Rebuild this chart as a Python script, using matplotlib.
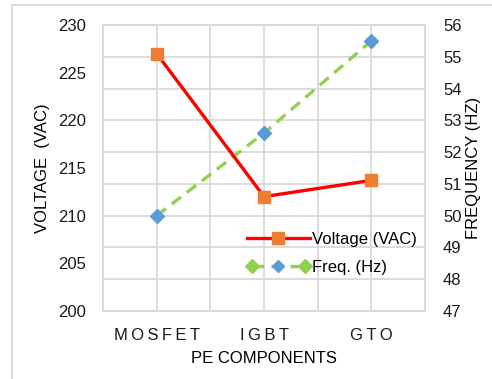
import matplotlib
matplotlib.use("Agg")
import matplotlib.pyplot as plt
from matplotlib.lines import Line2D
from matplotlib.legend_handler import HandlerLine2D, HandlerTuple

plt.rcParams['font.family'] = ['Liberation Sans', 'DejaVu Sans']

# data
components = ['MOSFET', 'IGBT', 'GTO']
tick_labels = ['\u2009'.join(c) for c in components]
voltage = [227.0, 212.0, 213.7]
freq = [50.0, 52.6, 55.5]

grid_c = '#D9D9D9'
fs = 12

fig = plt.figure(figsize=(4.92, 3.79), dpi=100)
ax1 = fig.add_axes([103 / 492, 68 / 379, 322 / 492, 286 / 379])
ax2 = ax1.twinx()

x = list(range(len(components)))

# frequency on the twin axis (drawn underneath)
ax2.plot(x, freq, color='#92D050', lw=2.4, ls=(0, (3.5, 2.2)),
         marker='D', ms=7, mfc='#5B9BD5', mec='#5B9BD5', zorder=3)
ax2.set_ylim(47, 56)
ax2.set_yticks(range(47, 57))
ax2.yaxis.grid(True, color=grid_c, lw=1.3)
ax2.set_axisbelow(True)
# vertical grid every half category
for gx in [i * 0.5 - 0.5 for i in range(7)]:
    ax2.axvline(gx, color=grid_c, lw=1.3, zorder=0)

# voltage on the main axis, put on top
ax1.set_zorder(ax2.get_zorder() + 1)
ax1.patch.set_visible(False)
ax1.plot(x, voltage, color='#FF0000', lw=2.4, marker='s', ms=9,
         mfc='#ED7D31', mec='#ED7D31', zorder=3)
ax1.set_ylim(200, 230)
ax1.set_yticks(range(200, 231, 5))
ax1.set_xlim(-0.5, 2.5)
ax1.set_xticks(x)
ax1.set_xticklabels(tick_labels)

for ax in (ax1, ax2):
    for s in ax.spines.values():
        s.set_color(grid_c)
        s.set_linewidth(1.3)
    ax.tick_params(length=0, which='both', labelsize=fs, colors='#1a1a1a')

ax1.tick_params(axis='y', pad=12)
ax1.tick_params(axis='x', pad=12)
ax2.tick_params(axis='y', pad=13)

ax1.set_xlabel('PE COMPONENTS', fontsize=fs, labelpad=6)
ax1.set_ylabel('VOLTAGE  (VAC)', fontsize=fs, labelpad=6)
ax2.set_ylabel('FREQUENCY (HZ)', fontsize=fs, labelpad=3)

# legend like the spreadsheet one
v_line = Line2D([], [], color='#FF0000', lw=2.4)
v_mark = Line2D([], [], ls='none', marker='s', ms=9, mfc='#ED7D31', mec='#ED7D31')
f_line = Line2D([], [], color='#92D050', lw=2.4, ls=(0, (3.5, 2.2)),
                marker='D', ms=7, mfc='#92D050', mec='#92D050')
f_mark = Line2D([], [], ls='none', marker='D', ms=6, mfc='#5B9BD5', mec='#5B9BD5')
ax1.legend([(v_line, v_mark), (f_line, f_mark)], ['Voltage (VAC)', 'Freq. (Hz)'],
           handler_map={f_line: HandlerLine2D(numpoints=2),
                        tuple: HandlerTuple(ndivide=1, pad=0)},
           loc='lower right', bbox_to_anchor=(1.02, 0.075), frameon=False,
           fontsize=fs, handlelength=3.8, handletextpad=0.1, labelspacing=0.75)

# light outer border of the chart area
fig.add_artist(Line2D([12 / 492, 12 / 492], [0, 1 - 5 / 379],
                      transform=fig.transFigure, color=grid_c, lw=1.3))
fig.add_artist(Line2D([12 / 492, 1], [1 - 5 / 379, 1 - 5 / 379],
                      transform=fig.transFigure, color=grid_c, lw=1.3))

fig.savefig('out.png', dpi=100)
